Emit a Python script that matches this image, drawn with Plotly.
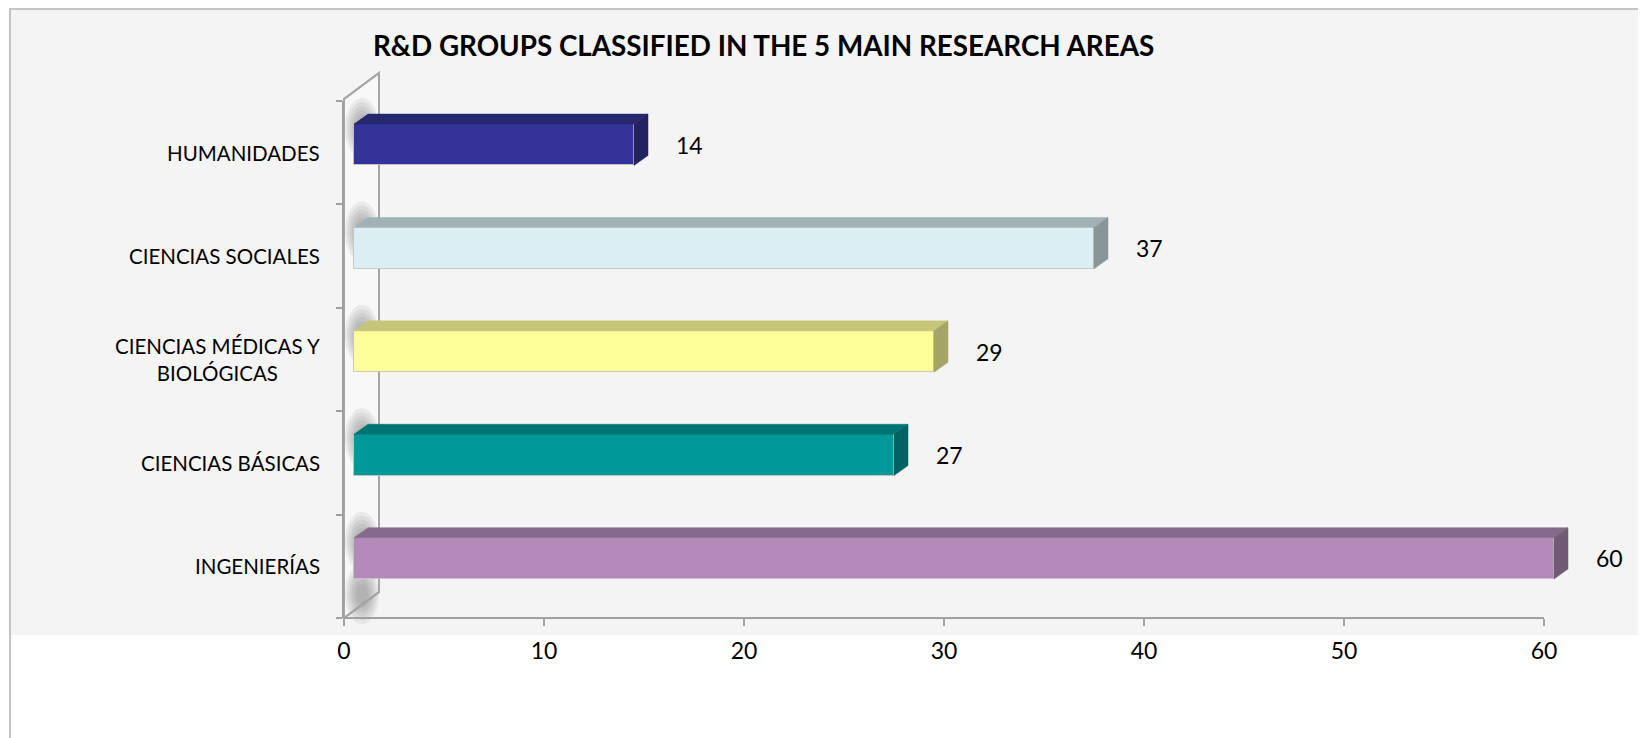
import plotly.graph_objects as go

# ---------------- data (bottom -> top, as drawn) ----------------
categories = ["INGENIERÍAS", "CIENCIAS BÁSICAS", "CIENCIAS MÉDICAS Y<br>BIOLÓGICAS",
              "CIENCIAS SOCIALES", "HUMANIDADES"]
values = [60, 27, 29, 37, 14]
x_ticks = [0, 10, 20, 30, 40, 50, 60]
title_text = "R&D GROUPS CLASSIFIED IN THE 5 MAIN RESEARCH AREAS"

front_colors = ["#B389B9", "#009999", "#FFFF99", "#DAEEF3", "#333399"]
top_colors = ["#866A8B", "#007373", "#C6C67A", "#A2B1B5", "#27276E"]
side_colors = ["#725A76", "#006262", "#A4A466", "#889595", "#222262"]

# ---------------- layout geometry (page pixels; body has an 8px margin) ----------------
BODY = 8
W, H = 1646 - BODY, 738 - BODY
PLOT_LEFT, PLOT_TOP, PLOT_BOTTOM = 344, 101, 618     # page coordinates
X_MAX = 63
PW = 20 * X_MAX
PH = PLOT_BOTTOM - PLOT_TOP
L = PLOT_LEFT - BODY
T = PLOT_TOP - BODY
R = W - L - PW
B = H - T - PH
FONT = "Lato"
AXIS_GRAY = "#A0A0A0"


def px_x(px):
    return (px - PLOT_LEFT) / PW


def px_y(py):
    return (PLOT_BOTTOM - py) / PH


pos = list(range(len(categories)))
BAR_W = 0.40
BAR_OFF = -0.123
DX = 14 / 20.0          # depth in x units
DY = 10 / (PH / 5.0)    # depth in category units

fig = go.Figure()

# 3D top & side faces built from the values
for i, (p, v) in enumerate(zip(pos, values)):
    yb = p + BAR_OFF
    yt = yb + BAR_W
    fig.add_trace(go.Scatter(
        x=[0, v, v + DX, DX, 0], y=[yt, yt, yt + DY, yt + DY, yt],
        xaxis="x2", yaxis="y", mode="lines", fill="toself",
        fillcolor=top_colors[i], line=dict(color=top_colors[i], width=0.5),
        hoverinfo="skip", showlegend=False))
    fig.add_trace(go.Scatter(
        x=[v, v + DX, v + DX, v, v], y=[yb, yb + DY, yt + DY, yt, yb],
        xaxis="x2", yaxis="y", mode="lines", fill="toself",
        fillcolor=side_colors[i], line=dict(color=side_colors[i], width=0.5),
        hoverinfo="skip", showlegend=False))

# front faces
fig.add_trace(go.Bar(
    y=pos, x=values, orientation="h", width=BAR_W, offset=BAR_OFF,
    xaxis="x2", yaxis="y",
    marker=dict(color=front_colors, line=dict(color="rgba(195,195,195,0.9)", width=1)),
    hoverinfo="skip", showlegend=False))

shapes = []
# chart area background + border
shapes.append(dict(type="rect", xref="paper", yref="paper", layer="below",
                   x0=px_x(10), x1=px_x(1643), y0=px_y(635), y1=px_y(9),
                   fillcolor="#F4F4F4", line=dict(width=0)))
shapes.append(dict(type="rect", xref="paper", yref="paper", layer="below",
                   x0=px_x(10), x1=px_x(1643), y0=px_y(760), y1=px_y(9),
                   fillcolor="rgba(0,0,0,0)", line=dict(color="#C4C4C4", width=2)))
# side wall
wall = (f"M {px_x(344)},{px_y(99)} L {px_x(379)},{px_y(73)} "
        f"L {px_x(379)},{px_y(592)} L {px_x(344)},{px_y(618)} Z")
shapes.append(dict(type="path", xref="paper", yref="paper", layer="below",
                   path=wall, fillcolor="#F8F8F8", line=dict(color="#A6A6A6", width=2)))
# soft shading on the wall (above each bar's top and under the lowest bar)
unit = PH / 5.0
blob_centers = [PLOT_BOTTOM - (p + BAR_OFF + BAR_W + 0.5) * unit + 4 for p in pos] + [594]
for cy in blob_centers:
    for k in range(6):
        hw = 17 - 2.2 * k
        hh = 30 - 4 * k
        shapes.append(dict(type="circle", xref="paper", yref="paper", layer="below",
                           x0=px_x(362 - hw), x1=px_x(362 + hw),
                           y0=px_y(cy + hh), y1=px_y(cy - hh),
                           fillcolor="rgba(90,90,90,0.09)", line=dict(width=0)))
# wall edges redrawn over the shading
shapes.append(dict(type="path", xref="paper", yref="paper", layer="below",
                   path=wall, fillcolor="rgba(0,0,0,0)", line=dict(color="#A6A6A6", width=2)))
# x axis line (0..60 only)
shapes.append(dict(type="line", xref="x", yref="paper", layer="above",
                   x0=x_ticks[0], x1=x_ticks[-1], y0=0, y1=0,
                   line=dict(color=AXIS_GRAY, width=2)))

annotations = []
annotations.append(dict(text=title_text, xref="paper", yref="paper",
                        x=px_x(763.5), y=px_y(45.5), xanchor="center", yanchor="middle",
                        showarrow=False,
                        font=dict(family=FONT, size=27.8, color="#000000", weight="bold")))
for p, c in zip(pos, categories):
    annotations.append(dict(text=c, xref="paper", yref="y", x=px_x(322), y=p,
                            xanchor="right", yanchor="middle", align="center",
                            showarrow=False,
                            font=dict(family=FONT, size=20.5, color="#000000")))
for p, v in zip(pos, values):
    annotations.append(dict(text=str(v), xref="x2", yref="y", x=v,
                            y=p + BAR_OFF + BAR_W / 2, xanchor="left", yanchor="middle",
                            xshift=40, showarrow=False,
                            font=dict(family=FONT, size=23, color="#000000")))

fig.update_layout(
    width=W, height=H,
    margin=dict(l=L, r=R, t=T, b=B, pad=0),
    paper_bgcolor="#FFFFFF", plot_bgcolor="rgba(0,0,0,0)",
    showlegend=False, bargap=0,
    xaxis=dict(range=[0, X_MAX], tickvals=x_ticks, ticks="outside", ticklen=7,
               tickwidth=2, tickcolor=AXIS_GRAY, showline=False, showgrid=False,
               zeroline=False, tickfont=dict(family=FONT, size=23, color="#000000"),
               ticklabelstandoff=5, fixedrange=True),
    xaxis2=dict(range=[-0.5, X_MAX - 0.5], overlaying="x", visible=False, anchor="y"),
    yaxis=dict(range=[-0.5, len(categories) - 0.5],
               tickvals=[k - 0.5 for k in range(len(categories) + 1)],
               ticks="outside", ticklen=6, tickwidth=2, tickcolor=AXIS_GRAY,
               showticklabels=False, showline=True, linecolor=AXIS_GRAY, linewidth=2,
               showgrid=False, zeroline=False, fixedrange=True),
    shapes=shapes, annotations=annotations,
)

fig.write_html("out.html")
